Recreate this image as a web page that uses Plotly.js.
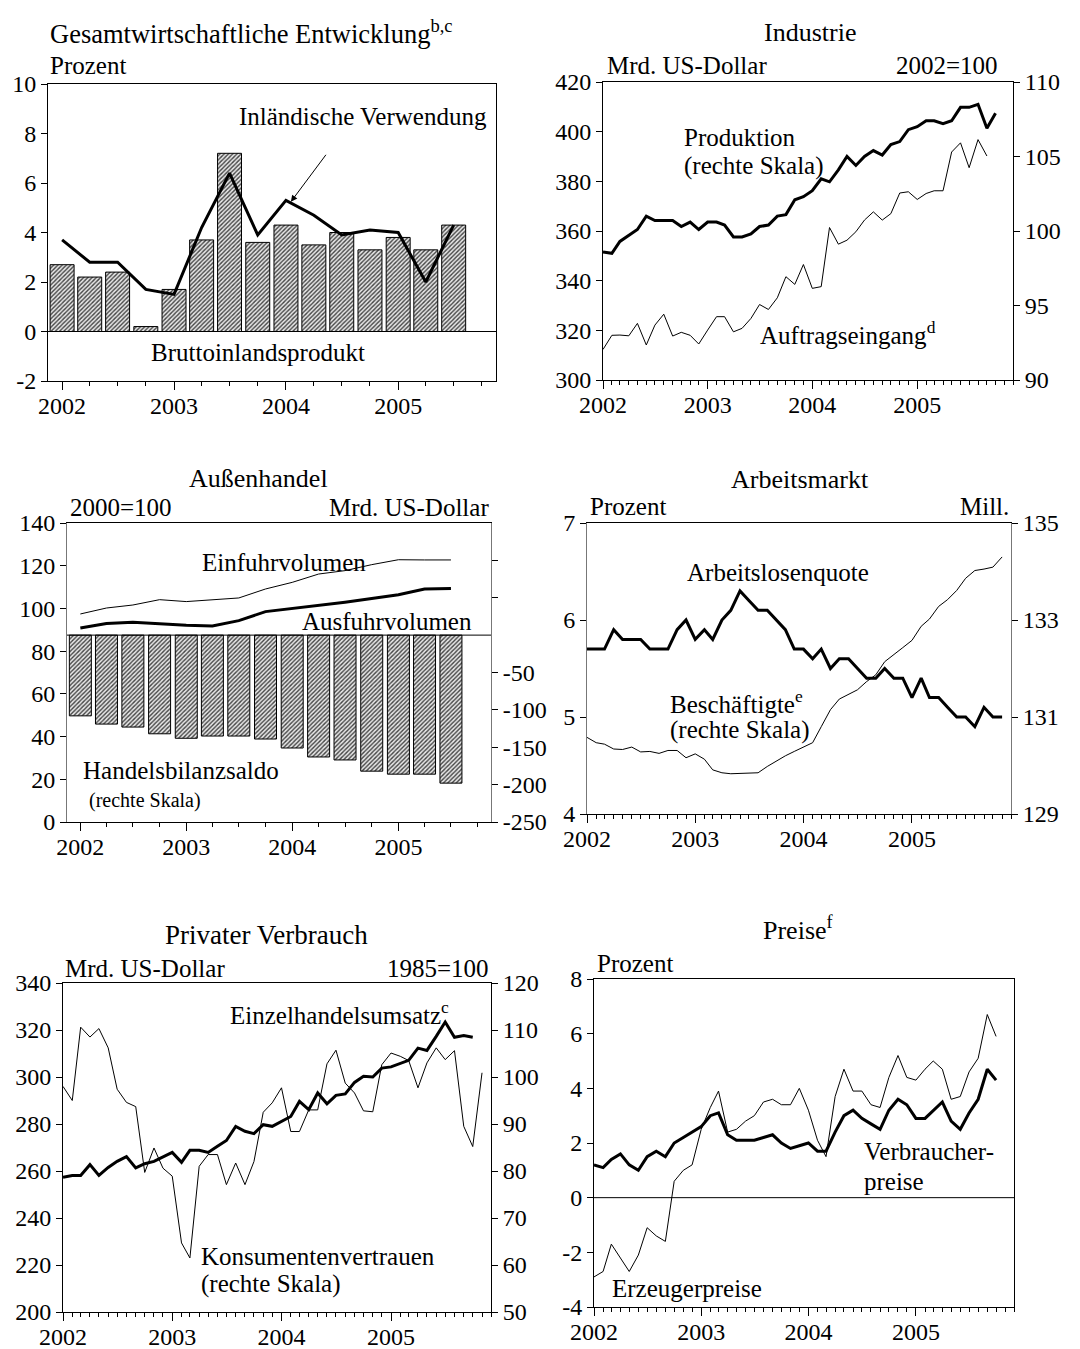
<!DOCTYPE html>
<html><head><meta charset="utf-8">
<script src="https://cdn.plot.ly/plotly-3.0.1.min.js"></script>
<style>body{margin:0;background:#fff}#chart{width:1080px;height:1349px}</style>
</head><body><div id="chart"></div>
<script>
// ---------- DATA ----------
// Gesamtwirtschaftliche Entwicklung (quarterly, 2002Q1-2005Q3), Prozent
const bip = [2.7, 2.2, 2.4, 0.2, 1.7, 3.7, 7.2, 3.6, 4.3, 3.5, 4.0, 3.3, 3.8, 3.3, 4.3];
const inlVerwendung = [3.7, 2.8, 2.8, 1.7, 1.5, 4.2, 6.4, 3.9, 5.3, 4.7, 3.9, 4.1, 4.0, 2.0, 4.3];

// Industrie (monthly from Jan 2002)
const auftragseingang = [312.3, 318.0, 318.1, 317.8, 322.8, 314.1, 322.1, 326.5, 317.7, 319.2, 318.0, 314.5,
  320.1, 325.5, 325.5, 319.4, 320.8, 324.8, 330.4, 328.4, 333.1, 341.6, 338.5, 346.5,
  336.9, 337.6, 361.4, 354.7, 356.3, 359.7, 364.4, 367.7, 364.4, 367.0, 375.3, 375.8,
  372.7, 375.1, 376.2, 376.2, 391.8, 395.5, 385.5, 396.8, 390.2];
const produktion = [98.6, 98.5, 99.3, 99.7, 100.1, 101.0, 100.7, 100.7, 100.7, 100.3, 100.6, 100.1,
  100.6, 100.6, 100.4, 99.6, 99.6, 99.8, 100.3, 100.4, 101.0, 101.1, 102.1, 102.3,
  102.7, 103.5, 103.3, 104.1, 105.0, 104.4, 105.0, 105.4, 105.1, 105.8, 106.0, 106.8,
  107.0, 107.4, 107.4, 107.2, 107.4, 108.3, 108.3, 108.5, 106.9, 107.9];

// Außenhandel (quarterly)
const handelsbilanzsaldo = [-108, -119, -123, -132, -138, -135, -135, -139, -151, -163, -167, -182, -186, -186, -198];
const einfuhrvolumen = [97.4, 100.2, 101.6, 104.1, 103.2, 103.9, 104.9, 109.1, 112.2, 116.1, 117.7, 120.5, 122.8, 122.7, 122.7];
const ausfuhrvolumen = [90.8, 92.9, 93.5, 92.7, 92.1, 91.8, 94.3, 98.5, 99.9, 101.3, 102.9, 104.6, 106.4, 109.1, 109.3];

// Arbeitsmarkt (monthly)
const arbeitslosenquote = [5.7, 5.7, 5.7, 5.9, 5.8, 5.8, 5.8, 5.7, 5.7, 5.7, 5.9, 6.0,
  5.8, 5.9, 5.8, 6.0, 6.1, 6.3, 6.2, 6.1, 6.1, 6.0, 5.9, 5.7,
  5.7, 5.6, 5.7, 5.5, 5.6, 5.6, 5.5, 5.4, 5.4, 5.5, 5.4, 5.4,
  5.2, 5.4, 5.2, 5.2, 5.1, 5.0, 5.0, 4.9, 5.1, 5.0, 5.0];
const beschaeftigte = [130.58, 130.47, 130.44, 130.34, 130.33, 130.38, 130.28, 130.29, 130.25, 130.31, 130.31, 130.16,
  130.24, 130.13, 129.91, 129.85, 129.83, 129.84, 129.85, 129.85, 129.98, 130.09, 130.20, 130.29,
  130.38, 130.47, 130.80, 131.15, 131.37, 131.47, 131.56, 131.73, 131.87, 132.14, 132.28, 132.43,
  132.58, 132.87, 133.02, 133.28, 133.42, 133.61, 133.86, 134.02, 134.05, 134.09, 134.30];

// Privater Verbrauch (monthly)
const einzelhandelsumsatz = [257.3, 258.1, 258.1, 262.7, 258.1, 261.5, 264.1, 266.1, 261.3, 263.1, 264.1, 266.0,
  267.9, 263.7, 268.8, 268.8, 267.9, 270.5, 273.0, 279.0, 276.9, 275.9, 279.7, 279.0,
  281.1, 283.2, 289.6, 286.1, 293.2, 288.6, 292.2, 292.8, 297.7, 300.3, 300.0, 303.8,
  304.3, 305.7, 307.1, 312.3, 311.3, 317.3, 323.4, 316.9, 317.6, 316.9];
const konsumentenvertrauen = [98.0, 95.0, 110.6, 108.5, 110.3, 106.2, 97.4, 94.6, 93.7, 79.7, 84.9, 80.6,
  78.9, 64.7, 61.5, 81.0, 83.5, 83.5, 77.1, 81.7, 77.1, 82.0, 92.5, 94.5,
  97.7, 88.4, 88.4, 93.0, 93.0, 102.8, 105.7, 98.7, 96.6, 92.8, 92.6, 102.6,
  105.1, 104.4, 103.5, 97.7, 103.0, 106.2, 103.7, 105.6, 89.5, 85.2, 100.9];

// Preise (monthly), Prozent
const verbraucherpreise = [1.2, 1.1, 1.4, 1.6, 1.2, 1.0, 1.5, 1.7, 1.5, 2.0, 2.2, 2.4,
  2.6, 3.0, 3.1, 2.3, 2.1, 2.1, 2.1, 2.2, 2.3, 2.0, 1.8, 1.9,
  2.0, 1.7, 1.7, 2.4, 3.0, 3.2, 2.9, 2.7, 2.5, 3.2, 3.6, 3.4,
  2.9, 2.9, 3.2, 3.5, 2.8, 2.5, 3.1, 3.6, 4.7, 4.3];
const erzeugerpreise = [-2.9, -2.7, -1.7, -2.2, -2.7, -2.1, -1.1, -1.4, -1.6, 0.6, 1.0, 1.2,
  2.5, 3.3, 3.9, 2.4, 2.5, 2.8, 3.0, 3.5, 3.6, 3.4, 3.4, 4.0,
  3.2, 2.1, 1.5, 3.7, 4.7, 3.9, 3.9, 3.4, 3.3, 4.4, 5.2, 4.4,
  4.3, 4.7, 5.0, 4.7, 3.6, 3.7, 4.6, 5.1, 6.7, 5.9];

// tick values
const yTicks1 = [-2, 0, 2, 4, 6, 8, 10];
const yTicks2L = [300, 320, 340, 360, 380, 400, 420];
const yTicks2R = [90, 95, 100, 105, 110];
const yTicks3L = [0, 20, 40, 60, 80, 100, 120, 140];
const yTicks3R = [-250, -200, -150, -100, -50, 50, 100];
const yTicks3RLabels = ['-250', '-200', '-150', '-100', '-50', '', ''];
const yTicks4L = [4, 5, 6, 7];
const yTicks4R = [129, 131, 133, 135];
const yTicks5L = [200, 220, 240, 260, 280, 300, 320, 340];
const yTicks5R = [50, 60, 70, 80, 90, 100, 110, 120];
const yTicks6 = [-4, -2, 0, 2, 4, 6, 8];

// period axes (start dates of months / quarters from Jan 2002)
function periods(n, step) {
  const out = [];
  for (let i = 0; i < n; i++) {
    const k = i * step, y = 2002 + Math.floor(k / 12), m = k % 12 + 1;
    out.push(y + '-' + String(m).padStart(2, '0') + '-01');
  }
  return out;
}
const q15 = periods(15, 3);

// ---------- LAYOUT HELPERS ----------
const W = 1080, H = 1349;
const FONT = '"Liberation Serif", "Times New Roman", serif';
const dx = (a, b) => [a / W, b / W];
const dy = (top, bot) => [1 - bot / H, 1 - top / H];
const DAY = 86400000, YEAR = 365.25 * DAY;
const TICKFONT = { family: FONT, size: 24, color: '#000' };

function xAxis(domain, range, minor, anchor) {
  return {
    domain, range, anchor, type: 'date',
    tick0: '2002-01-01', dtick: 'M12', tickformat: '%Y',
    ticks: 'outside', ticklen: 8, tickwidth: 1, tickcolor: '#000',
    ticklabelstandoff: -5,
    showline: true, linecolor: '#000', linewidth: 1, mirror: true,
    showgrid: false, zeroline: false, fixedrange: true,
    tickfont: TICKFONT,
    minor: { dtick: minor, ticks: 'outside', ticklen: 4, tickwidth: 1, tickcolor: '#000', showgrid: false }
  };
}
function yAxis(domain, range, vals, anchor, opts) {
  const o = Object.assign({
    domain, range, anchor,
    tickmode: 'array', tickvals: vals, ticktext: vals.map(String),
    ticks: 'outside', ticklen: 6, tickwidth: 1, tickcolor: '#000',
    showline: true, linecolor: '#000', linewidth: 1,
    showgrid: false, zeroline: false, fixedrange: true,
    tickfont: TICKFONT
  }, opts || {});
  return o;
}
function note(text, x, y, xanchor, size) {
  return { text, xref: 'paper', yref: 'paper', x: x / W, y: 1 - y / H, xanchor: xanchor || 'left',
    yanchor: 'middle', showarrow: false, font: { family: FONT, size: size || 25, color: '#000' } };
}

const barPattern = { shape: '/', fgcolor: '#444', bgcolor: '#e8e8e8', size: 3, solidity: 0.45 };
const monthRange = ['2002-01-01', '2005-12-01'];
const quarterRange = ['2001-11-16', '2005-11-16'];

// ---------- TRACES ----------
const traces = [
  // Panel 1
  { type: 'bar', x: q15, y: bip, xaxis: 'x', yaxis: 'y', width: 0.214 * YEAR,
    marker: { color: '#e8e8e8', pattern: barPattern, line: { color: '#000', width: 1 } } },
  { type: 'scatter', mode: 'lines', x: q15, y: inlVerwendung, xaxis: 'x', yaxis: 'y',
    line: { color: '#000', width: 3 } },
  // Panel 2
  { type: 'scatter', mode: 'lines', x: periods(auftragseingang.length, 1), y: auftragseingang, xaxis: 'x2', yaxis: 'y2',
    line: { color: '#000', width: 1 } },
  { type: 'scatter', mode: 'lines', x: periods(produktion.length, 1), y: produktion, xaxis: 'x2', yaxis: 'y3',
    line: { color: '#000', width: 3 } },
  // Panel 3
  { type: 'bar', x: q15, y: handelsbilanzsaldo, base: 0, xaxis: 'x3', yaxis: 'y5', width: 0.2075 * YEAR,
    marker: { color: '#e8e8e8', pattern: barPattern, line: { color: '#000', width: 1 } } },
  { type: 'scatter', mode: 'lines', x: q15, y: einfuhrvolumen, xaxis: 'x3', yaxis: 'y4',
    line: { color: '#000', width: 1 } },
  { type: 'scatter', mode: 'lines', x: q15, y: ausfuhrvolumen, xaxis: 'x3', yaxis: 'y4',
    line: { color: '#000', width: 3 } },
  // Panel 4
  { type: 'scatter', mode: 'lines', x: periods(arbeitslosenquote.length, 1), y: arbeitslosenquote, xaxis: 'x4', yaxis: 'y6',
    line: { color: '#000', width: 3 } },
  { type: 'scatter', mode: 'lines', x: periods(beschaeftigte.length, 1), y: beschaeftigte, xaxis: 'x4', yaxis: 'y7',
    line: { color: '#000', width: 1 } },
  // Panel 5
  { type: 'scatter', mode: 'lines', x: periods(einzelhandelsumsatz.length, 1), y: einzelhandelsumsatz, xaxis: 'x5', yaxis: 'y8',
    line: { color: '#000', width: 3 } },
  { type: 'scatter', mode: 'lines', x: periods(konsumentenvertrauen.length, 1), y: konsumentenvertrauen, xaxis: 'x5', yaxis: 'y9',
    line: { color: '#000', width: 1 } },
  // Panel 6
  { type: 'scatter', mode: 'lines', x: periods(erzeugerpreise.length, 1), y: erzeugerpreise, xaxis: 'x6', yaxis: 'y10',
    line: { color: '#000', width: 1 } },
  { type: 'scatter', mode: 'lines', x: periods(verbraucherpreise.length, 1), y: verbraucherpreise, xaxis: 'x6', yaxis: 'y10',
    line: { color: '#000', width: 3 } }
];

// ---------- LAYOUT ----------
const P1 = { x: dx(48, 496), y: dy(84, 381) };
const P2 = { x: dx(603, 1013), y: dy(82, 380) };
const P3 = { x: dx(67, 491), y: dy(523, 822) };
const P4 = { x: dx(587, 1011), y: dy(523, 814) };
const P5 = { x: dx(63, 491), y: dy(983, 1312) };
const P6 = { x: dx(594, 1014), y: dy(979, 1307) };

const layout = {
  width: W, height: H, margin: { l: 0, r: 0, t: 0, b: 0 },
  paper_bgcolor: '#fff', plot_bgcolor: '#fff', showlegend: false, bargap: 0,
  font: { family: FONT, size: 24, color: '#000' },
  xaxis: xAxis(P1.x, quarterRange, 'M3', 'y'),
  yaxis: yAxis(P1.y, [-2, 10], yTicks1, 'x', { mirror: true }),
  xaxis2: xAxis(P2.x, monthRange, 'M1', 'y2'),
  yaxis2: yAxis(P2.y, [300, 420], yTicks2L, 'x2'),
  yaxis3: yAxis(P2.y, [90, 110], yTicks2R, 'x2', { overlaying: 'y2', side: 'right' }),
  xaxis3: xAxis(P3.x, quarterRange, 'M3', 'y4'),
  yaxis4: yAxis(P3.y, [0, 140], yTicks3L, 'x3', { linecolor: '#777' }),
  yaxis5: yAxis(P3.y, [-250, 150], yTicks3R, 'x3', { overlaying: 'y4', side: 'right', ticktext: yTicks3RLabels, linecolor: '#777' }),
  xaxis4: xAxis(P4.x, monthRange, 'M1', 'y6'),
  yaxis6: yAxis(P4.y, [4, 7], yTicks4L, 'x4', { linecolor: '#777' }),
  yaxis7: yAxis(P4.y, [129, 135], yTicks4R, 'x4', { overlaying: 'y6', side: 'right', linecolor: '#777' }),
  xaxis5: xAxis(P5.x, monthRange, 'M1', 'y8'),
  yaxis8: yAxis(P5.y, [200, 340], yTicks5L, 'x5'),
  yaxis9: yAxis(P5.y, [50, 120], yTicks5R, 'x5', { overlaying: 'y8', side: 'right' }),
  xaxis6: xAxis(P6.x, monthRange, 'M1', 'y10'),
  yaxis10: yAxis(P6.y, [-4, 8], yTicks6, 'x6', { mirror: true }),
  shapes: [
    { type: 'line', xref: 'x domain', yref: 'y', x0: 0, x1: 1, y0: 0, y1: 0, line: { color: '#000', width: 1 } },
    { type: 'line', xref: 'x3 domain', yref: 'y5', x0: 0, x1: 1, y0: 0, y1: 0, line: { color: '#000', width: 1 } },
    { type: 'line', xref: 'x6 domain', yref: 'y10', x0: 0, x1: 1, y0: 0, y1: 0, line: { color: '#000', width: 1 } }
  ],
  annotations: [
    // Panel 1
    note('Gesamtwirtschaftliche Entwicklung<sup>b,c</sup>', 48, 32, 'left', 26.5),
    note('Prozent', 48, 66),
    note('Inländische Verwendung', 489, 117, 'right'),
    note('Bruttoinlandsprodukt', 258, 352, 'center'),
    { text: '', xref: 'x', yref: 'y', x: '2004-01-17', y: 5.24, axref: 'x', ayref: 'y', ax: '2004-05-14', ay: 7.2,
      showarrow: true, arrowhead: 2, arrowsize: 1.3, arrowwidth: 1, arrowcolor: '#000' },
    // Panel 2
    note('Industrie', 810, 32, 'center', 26),
    note('Mrd. US-Dollar', 605, 66),
    note('2002=100', 1000, 66, 'right'),
    note('Produktion', 682, 137),
    note('(rechte Skala)', 682, 166),
    note('Auftragseingang<sup>d</sup>', 758, 333),
    // Panel 3
    note('Außenhandel', 258, 478, 'center', 26),
    note('2000=100', 68, 508),
    note('Mrd. US-Dollar', 491, 508, 'right'),
    note('Einfuhrvolumen', 200, 562),
    note('Ausfuhrvolumen', 300, 621),
    note('Handelsbilanzsaldo', 81, 770),
    note('(rechte Skala)', 87, 800, 'left', 20),
    // Panel 4
    note('Arbeitsmarkt', 800, 480, 'center', 26),
    note('Prozent', 588, 506),
    note('Mill.', 1011, 506, 'right'),
    note('Arbeitslosenquote', 685, 572),
    note('Beschäftigte<sup>e</sup>', 668, 702),
    note('(rechte Skala)', 668, 730),
    // Panel 5
    note('Privater Verbrauch', 266, 935, 'center', 27),
    note('Mrd. US-Dollar', 63, 968),
    note('1985=100', 491, 968, 'right'),
    note('Einzelhandelsumsatz<sup>c</sup>', 228, 1013),
    note('Konsumentenvertrauen', 199, 1256),
    note('(rechte Skala)', 199, 1284),
    // Panel 6
    note('Preise<sup>f</sup>', 798, 928, 'center', 26),
    note('Prozent', 595, 964),
    note('Verbraucher-', 862, 1151),
    note('preise', 862, 1181),
    note('Erzeugerpreise', 610, 1288)
  ]
};

Plotly.newPlot('chart', traces, layout, { staticPlot: true, displayModeBar: false });
</script>
</body></html>
